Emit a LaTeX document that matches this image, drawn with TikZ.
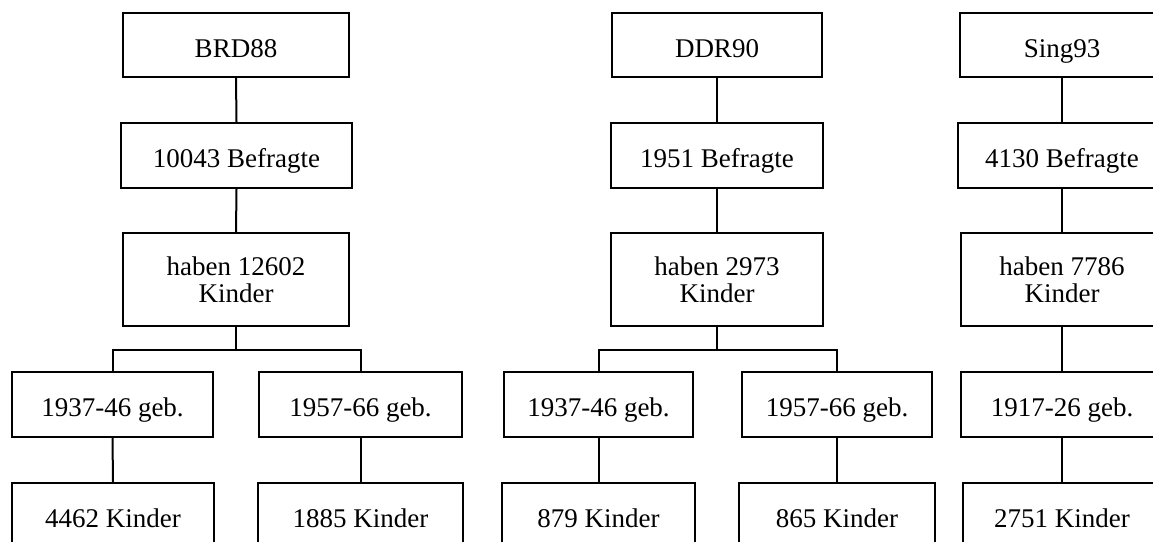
\documentclass[tikz,border=0pt]{standalone}
\usepackage{fontspec}
\setmainfont{Liberation Serif}
\tikzset{
    kasten/.style={draw, line width=2pt, align=center, inner sep=0pt,
        minimum height=65pt, font=\fontsize{27}{27}\selectfont},
    zeile/.style={kasten, text height=24pt, text depth=0pt},
    linie/.style={line width=2pt}
}
\begin{document}
\begin{tikzpicture}[x=1pt, y=-1pt]
    \useasboundingbox (0,0) rectangle (1153,541);

    % BRD88
    \node[zeile, minimum width=226pt, minimum height=64pt] (brd) at (236,45) {BRD88};
    \node[zeile, minimum width=231pt] (brdbef) at (236.5,155.5) {10043 Befragte};
    \node[kasten, minimum width=226pt, minimum height=93pt] (brdkin) at (236,279.5) {haben 12602\\Kinder};
    \node[zeile, minimum width=201pt] (brda) at (112.5,404.5) {1937-46 geb.};
    \node[zeile, minimum width=203pt] (brdb) at (360.5,404.5) {1957-66 geb.};
    \node[zeile, minimum width=202pt] (brdak) at (113,515.5) {4462 Kinder};
    \node[zeile, minimum width=205pt] (brdbk) at (360.5,515.5) {1885 Kinder};

    % DDR90
    \node[zeile, minimum width=210pt, minimum height=64pt] (ddr) at (717,45) {DDR90};
    \node[zeile, minimum width=212pt] (ddrbef) at (717,155.5) {1951 Befragte};
    \node[kasten, minimum width=212pt, minimum height=93pt] (ddrkin) at (717,279.5) {haben 2973\\Kinder};
    \node[zeile, minimum width=189pt] (ddra) at (598.5,404.5) {1937-46 geb.};
    \node[zeile, minimum width=190pt] (ddrb) at (837,404.5) {1957-66 geb.};
    \node[zeile, minimum width=193pt] (ddrak) at (598.5,515.5) {879 Kinder};
    \node[zeile, minimum width=196pt] (ddrbk) at (837,515.5) {865 Kinder};

    % Sing93
    \node[zeile, minimum width=204pt, minimum height=64pt] (sing) at (1062,45) {Sing93};
    \node[zeile, minimum width=208pt] (singbef) at (1062,155.5) {4130 Befragte};
    \node[kasten, minimum width=202pt, minimum height=93pt] (singkin) at (1062,279.5) {haben 7786\\Kinder};
    \node[zeile, minimum width=202pt] (singa) at (1062,404.5) {1917-26 geb.};
    \node[zeile, minimum width=198pt] (singak) at (1062,515.5) {2751 Kinder};

    % Verbindungen
    \foreach \a/\b in {brd/brdbef, brdbef/brdkin, brda/brdak, brdb/brdbk,
                       ddr/ddrbef, ddrbef/ddrkin, ddra/ddrak, ddrb/ddrbk,
                       sing/singbef, singbef/singkin, singkin/singa, singa/singak}
        \draw[linie] (\a.south) -- (\b.north);

    % Verzweigungen
    \foreach \k in {brd, ddr}
        \draw[linie] (\k a.north) |- ([yshift=-23pt]\k kin.south) -| (\k b.north)
                     ([yshift=-23pt]\k kin.south) -- (\k kin.south);

\end{tikzpicture}
\end{document}
